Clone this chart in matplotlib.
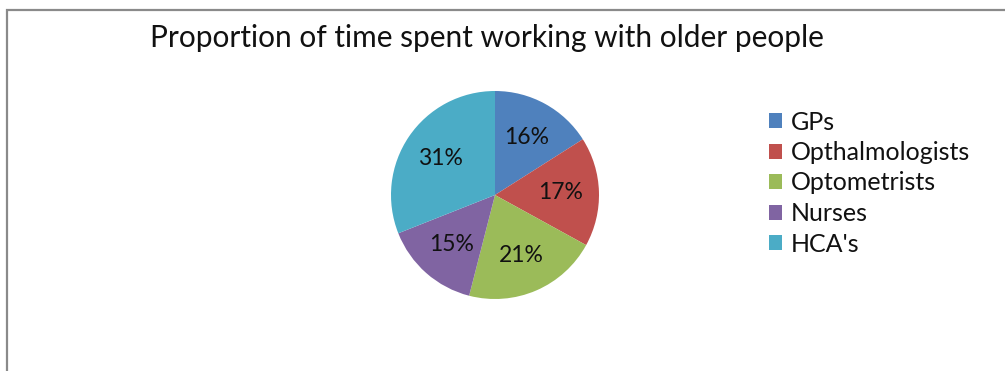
import matplotlib
matplotlib.use("Agg")
import matplotlib.pyplot as plt
from matplotlib.patches import Patch, Rectangle

plt.rcParams['font.family'] = ['Lato', 'DejaVu Sans']

# dados
categorias = ["GPs", "Opthalmologists", "Optometrists", "Nurses", "HCA's"]
valores = [16, 17, 21, 15, 31]
cores = ["#4F81BD", "#C0504D", "#9BBB59", "#8064A2", "#4BACC6"]

W, H = 1005, 371
fig = plt.figure(figsize=(W / 100, H / 100), dpi=100)

# moldura estilo Excel
fig.patches.append(Rectangle((7 / W, -0.1), 1.1, 1 - 10 / H + 0.1,
                             transform=fig.transFigure, fill=False,
                             edgecolor="#8a8a8a", linewidth=1.6))

fig.text(487 / W, 1 - 38 / H, "Proportion of time spent working with older people",
         ha="center", va="center", fontsize=21.5, color="#111111")

# pizza
cx, cy, r = 495, 195, 104
ax = fig.add_axes([(cx - r) / W, 1 - (cy + r) / H, 2 * r / W, 2 * r / H])
ax.pie(valores, colors=cores, startangle=90, counterclock=False,
       autopct="%1.0f%%", pctdistance=0.63, radius=1,
       wedgeprops=dict(linewidth=0),
       textprops=dict(fontsize=16.5, color="#111111"))
ax.set_xlim(-1, 1)
ax.set_ylim(-1, 1)
ax.set_aspect("equal")
ax.axis("off")

# legenda
handles = [Patch(facecolor=c, edgecolor="none") for c in cores]
fig.legend(handles, categorias, loc="upper left",
           bbox_to_anchor=(756 / W, 1 - 98 / H), frameon=False,
           fontsize=18, handlelength=0.55, handleheight=0.55,
           handletextpad=0.35, labelspacing=0.3, borderpad=0,
           labelcolor="#111111")

fig.savefig("out.png", dpi=100)
